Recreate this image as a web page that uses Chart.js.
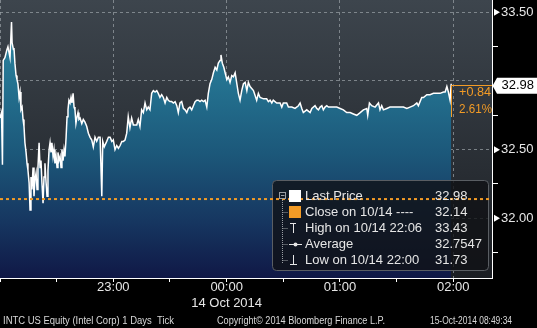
<!DOCTYPE html>
<html>
<head>
<meta charset="utf-8">
<script src="https://cdn.jsdelivr.net/npm/chart.js@4"></script>
<style>
  html, body { margin: 0; padding: 0; background: #000; }
  #wrap { width: 537px; height: 328px; }
</style>
</head>
<body>
<div id="wrap"><canvas id="chart" width="537" height="328"></canvas></div>
<script>
// ---- data (minutes after 22:00, INTC ticks) ----
const tickMinutes = [
  0, 0.8, 1.3, 1.7, 2.6, 3.7, 4.2, 5.3, 6.1, 6.4,
  7.1, 7.4, 7.9, 8.5, 9.0, 9.5, 10.1, 10.6, 11.1, 11.7,
  12.2, 12.7, 13.2, 13.8, 14.3, 14.8, 15.4, 15.9, 16.4, 16.9,
  17.5, 18.0, 18.5, 19.1, 19.6, 20.1, 20.7, 21.2, 21.7, 22.2,
  22.8, 23.3, 23.8, 24.4, 24.9, 25.4, 26.0, 26.5, 27.0, 27.5,
  28.1, 28.6, 29.1, 29.7, 30.2, 30.7, 31.2, 31.8, 32.3, 32.8,
  33.4, 33.9, 34.4, 35.0, 35.5, 36.0, 36.5, 37.1, 37.6, 38.1,
  38.7, 39.2, 39.7, 40.2, 40.8, 41.3, 41.8, 42.4, 43.3, 44.1,
  45.0, 45.9, 46.8, 47.7, 48.6, 49.4, 50.3, 51.2, 52.1, 53.0,
  53.9, 54.4, 55.2, 56.5, 57.4, 58.3, 59.2, 60.0, 60.9, 61.8,
  62.7, 63.6, 64.5, 65.3, 66.2, 67.1, 67.9, 68.8, 69.7, 70.6,
  71.5, 72.4, 73.2, 74.1, 75.0, 75.9, 76.8, 77.7, 78.5, 79.4,
  80.3, 81.2, 82.1, 83.0, 83.8, 84.7, 85.6, 86.5, 87.4, 88.3,
  89.1, 90.0, 90.9, 91.8, 92.7, 93.6, 94.4, 95.3, 96.2, 97.1,
  98.0, 98.9, 99.7, 100.6, 101.5, 102.4, 103.3, 104.2, 105.0, 105.9,
  106.8, 107.7, 108.6, 109.5, 110.3, 111.2, 112.1, 113.0, 113.9, 114.8,
  115.6, 116.5, 117.0, 117.7, 118.5, 119.2, 120.1, 120.9, 121.8, 122.7,
  123.6, 124.5, 125.4, 126.2, 127.1, 128.0, 128.9, 129.8, 130.7, 131.5,
  132.4, 134.2, 135.9, 136.8, 137.7, 139.5, 141.2, 142.1, 143.0, 143.9,
  144.7, 145.6, 146.5, 148.3, 149.2, 150.0, 151.8, 152.7, 154.5, 156.2,
  158.0, 158.9, 159.8, 160.6, 162.4, 164.2, 165.1, 166.8, 167.7, 168.6,
  169.5, 170.4, 171.2, 172.1, 173.0, 173.9, 178.3, 180.1, 181.8, 183.6,
  185.4, 187.1, 188.9, 190.7, 192.4, 194.2, 194.7, 195.6, 196.8, 198.6,
  200.4, 201.2, 202.1, 203.0, 204.8, 206.5, 210.1, 213.6, 215.4, 217.1,
  218.9, 220.7, 221.5, 222.4, 223.3, 224.2, 226.0, 227.7, 229.5, 231.3,
  233.0, 234.8, 235.7, 236.6, 237.4, 238.3, 238.9
];
const tickPrices = [
  32.73, 32.77, 32.39, 33.15, 33.17, 33.23, 33.25, 33.17, 33.43, 33.28,
  33.23, 33.24, 33.13, 33.04, 33.01, 32.98, 32.88, 32.92, 32.79, 32.81,
  32.72, 32.67, 32.55, 32.48, 32.40, 32.35, 32.26, 32.06, 32.30, 32.21,
  32.37, 32.16, 32.28, 32.33, 32.21, 32.37, 32.55, 32.37, 32.42, 32.26,
  32.11, 32.30, 32.40, 32.26, 32.16, 32.35, 32.50, 32.55, 32.48, 32.55,
  32.45, 32.50, 32.40, 32.45, 32.37, 32.48, 32.42, 32.45, 32.37, 32.50,
  32.42, 32.50, 32.45, 32.59, 32.74, 32.79, 32.86, 32.84, 32.88, 32.84,
  32.91, 32.81, 32.79, 32.69, 32.74, 32.77, 32.72, 32.73, 32.69, 32.72,
  32.70, 32.67, 32.62, 32.59, 32.57, 32.52, 32.59, 32.56, 32.59, 32.59,
  32.16, 32.56, 32.52, 32.56, 32.59, 32.59, 32.56, 32.57, 32.50, 32.53,
  32.51, 32.53, 32.56, 32.56, 32.57, 32.62, 32.74, 32.66, 32.73, 32.68,
  32.68, 32.68, 32.72, 32.67, 32.79, 32.77, 32.84, 32.79, 32.81, 32.79,
  32.91, 32.93, 32.92, 32.93, 32.91, 32.88, 32.90, 32.88, 32.84, 32.88,
  32.86, 32.85, 32.85, 32.84, 32.85, 32.82, 32.77, 32.84, 32.85, 32.80,
  32.79, 32.77, 32.80, 32.81, 32.79, 32.82, 32.85, 32.86, 32.86, 32.85,
  32.86, 32.85, 32.86, 32.81, 32.91, 32.98, 33.01, 33.06, 33.10, 33.08,
  33.13, 33.15, 33.19, 33.13, 33.10, 33.06, 33.01, 33.03, 32.99, 33.04,
  33.03, 33.06, 32.98, 32.91, 32.86, 32.93, 32.98, 32.99, 32.93, 32.99,
  32.96, 32.93, 32.86, 32.91, 32.88, 32.87, 32.87, 32.85, 32.86, 32.84,
  32.86, 32.85, 32.84, 32.84, 32.81, 32.84, 32.84, 32.81, 32.81, 32.80,
  32.82, 32.84, 32.80, 32.77, 32.79, 32.77, 32.80, 32.82, 32.80, 32.79,
  32.81, 32.82, 32.79, 32.81, 32.82, 32.81, 32.81, 32.80, 32.79, 32.77,
  32.77, 32.76, 32.75, 32.77, 32.79, 32.80, 32.75, 32.84, 32.82, 32.81,
  32.84, 32.79, 32.82, 32.79, 32.80, 32.81, 32.81, 32.81, 32.80, 32.81,
  32.82, 32.84, 32.82, 32.85, 32.88, 32.88, 32.90, 32.90, 32.91, 32.91,
  32.91, 32.92, 32.92, 32.96, 32.92, 32.86, 32.98
];

const closePrice = 32.14;
const lastPrice = 32.98;
const changeLines = ['+0.84', '2.61%'];

// x axis: 22:00 .. ~02:20, ticks every 30 min
const xMin = 0, xMax = 260.5;
const xTickMinutes = [0, 30, 60, 90, 120, 150, 180, 210, 240];
const xTickLabels = ['', '', '23:00', '', ['00:00', '14 Oct 2014'], '', '01:00', '', '02:00'];

const yMin = 31.565, yMax = 33.59;
const yTickValues = [31.75, 32.00, 32.25, 32.50, 32.75, 33.00, 33.25, 33.50];
const yTickLabels = ['', '32.00', '', '32.50', '', '', '', '33.50'];

const legendNames = ['Last Price', 'Close on 10/14 ----', 'High on 10/14 22:06', 'Average', 'Low on 10/14 22:00'];
const legendValues = ['32.98', '32.14', '33.43', '32.7547', '31.73'];

const footerTexts = ['INTC US Equity (Intel Corp) 1 Days  Tick', 'Copyright\u00A9 2014 Bloomberg Finance L.P.', '15-Oct-2014 08:49:34'];

// ---- styles ----
const FONT = '"Liberation Sans", Arial, sans-serif';
const ORANGE = '#f29b26';
const GRID = 'rgba(150,156,162,0.75)';
const TXT = '#e6e6e6';

const isHalf = v => Math.abs(v * 2 - Math.round(v * 2)) < 1e-6;

// background + legend + right-side boxes
const bbgPlugin = {
  id: 'bbg',
  beforeDraw(chart) {
    const { ctx, chartArea: a } = chart;
    ctx.save();
    ctx.fillStyle = '#000';
    ctx.fillRect(0, 0, chart.width, chart.height);
    const g = ctx.createLinearGradient(0, a.top, 0, a.bottom);
    g.addColorStop(0, '#3d454d');
    g.addColorStop(1, '#1b1e23');
    ctx.fillStyle = g;
    ctx.fillRect(a.left, a.top, a.right - a.left, a.bottom - a.top);
    ctx.restore();
  },
  beforeDatasetDraw(chart, args) {
    if (args.index !== 1) return;
    // legend box sits under the close line
    const { ctx } = chart;
    ctx.save();
    ctx.beginPath();
    ctx.roundRect(272.5, 180.5, 216, 90, 4);
    ctx.fillStyle = 'rgba(16,17,21,0.8)';
    ctx.fill();
    ctx.strokeStyle = '#5a5e63';
    ctx.lineWidth = 1;
    ctx.stroke();
    ctx.restore();
  },
  afterDraw(chart) {
    const { ctx } = chart;
    const ys = chart.scales.y;
    ctx.save();

    // legend contents
    const rowY = [196, 212, 228, 244, 260];
    ctx.font = '13px ' + FONT;
    ctx.textBaseline = 'middle';
    ctx.fillStyle = TXT;
    legendNames.forEach((n, i) => {
      ctx.fillText(n, 305, rowY[i]);
      ctx.fillText(legendValues[i], 435, rowY[i]);
    });
    // tree lines
    ctx.strokeStyle = '#9a9ea3';
    ctx.lineWidth = 1;
    ctx.setLineDash([1, 1]);
    ctx.beginPath();
    ctx.moveTo(282.5, 200); ctx.lineTo(282.5, 264);
    for (let i = 1; i < rowY.length; i++) {
      ctx.moveTo(282.5, rowY[i] + 0.5); ctx.lineTo(288, rowY[i] + 0.5);
    }
    ctx.stroke();
    ctx.setLineDash([]);
    ctx.strokeRect(279.5, 192.5, 6, 6);
    ctx.beginPath(); ctx.moveTo(281, 195.5); ctx.lineTo(284.5, 195.5); ctx.stroke();
    // swatches
    ctx.fillStyle = '#ffffff';
    ctx.fillRect(289, 190, 12, 12);
    ctx.fillStyle = ORANGE;
    ctx.fillRect(289, 206, 12, 12);
    // high / average / low icons
    ctx.strokeStyle = '#e6e6e6';
    ctx.beginPath();
    ctx.moveTo(290, 223.5); ctx.lineTo(296, 223.5);
    ctx.moveTo(293.5, 223.5); ctx.lineTo(293.5, 233);
    ctx.moveTo(289, 244.5); ctx.lineTo(302, 244.5);
    ctx.moveTo(293.5, 255); ctx.lineTo(293.5, 264.5);
    ctx.moveTo(290, 264.5); ctx.lineTo(297, 264.5);
    ctx.stroke();
    ctx.beginPath(); ctx.arc(295.5, 244.5, 2, 0, Math.PI * 2); ctx.fillStyle = '#e6e6e6'; ctx.fill();

    // change box next to last point
    ctx.strokeStyle = ORANGE;
    ctx.beginPath();
    ctx.moveTo(451.5, 117); ctx.lineTo(451.5, 85.5); ctx.lineTo(492, 85.5);
    ctx.stroke();
    ctx.fillStyle = ORANGE;
    ctx.fillText(changeLines[0], 459, 92, 32);
    ctx.fillText(changeLines[1], 459, 109, 33);

    // right axis markers
    ctx.fillStyle = '#ffffff';
    yTickValues.forEach((v, i) => {
      if (!yTickLabels[i]) return;
      const y = ys.getPixelForValue(v);
      ctx.beginPath();
      ctx.moveTo(494, y - 3.5); ctx.lineTo(500, y); ctx.lineTo(494, y + 3.5);
      ctx.closePath(); ctx.fill();
    });
    // last price tag
    const ly = ys.getPixelForValue(lastPrice) + 2;
    ctx.beginPath();
    ctx.moveTo(492.5, ly); ctx.lineTo(497, ly - 8); ctx.lineTo(537, ly - 8);
    ctx.lineTo(537, ly + 8); ctx.lineTo(497, ly + 8); ctx.closePath();
    ctx.fill();
    ctx.fillStyle = '#000';
    ctx.fillText(lastPrice.toFixed(2), 501.5, ly);

    // footer
    ctx.font = '10px ' + FONT;
    ctx.fillStyle = '#d8d8d8';
    ctx.fillText(footerTexts[0], 3, 321, 171);
    ctx.fillText(footerTexts[1], 217, 321, 168);
    ctx.fillText(footerTexts[2], 430, 321, 82);
    ctx.restore();
  }
};

const ctx = document.getElementById('chart').getContext('2d');
new Chart(ctx, {
  type: 'line',
  data: {
    datasets: [{
      label: 'Last Price',
      data: tickMinutes.map((t, i) => ({ x: t, y: tickPrices[i] })),
      borderColor: '#ffffff',
      borderWidth: 1.5,
      pointRadius: 0,
      tension: 0,
      fill: 'start',
      order: 2,
      backgroundColor: (c) => {
        const a = c.chart.chartArea;
        if (!a) return 'rgba(0,0,0,0)';
        const g = c.chart.ctx.createLinearGradient(0, a.top, 0, a.bottom);
        g.addColorStop(0, 'rgb(48,140,166)');
        g.addColorStop(0.3, 'rgb(36,114,144)');
        g.addColorStop(0.55, 'rgb(28,88,122)');
        g.addColorStop(0.8, 'rgb(22,54,96)');
        g.addColorStop(1, 'rgb(16,24,70)');
        return g;
      }
    }, {
      label: 'Close',
      data: [{ x: xMin, y: closePrice }, { x: xMax, y: closePrice }],
      borderColor: ORANGE,
      borderWidth: 2,
      borderDash: [3, 3],
      pointRadius: 0,
      fill: false,
      order: 1
    }]
  },
  options: {
    responsive: false,
    animation: false,
    events: [],
    layout: { padding: 0 },
    plugins: { legend: { display: false }, tooltip: { enabled: false } },
    scales: {
      x: {
        type: 'linear',
        min: xMin,
        max: xMax,
        afterBuildTicks: s => { s.ticks = xTickMinutes.map(v => ({ value: v })); },
        afterFit: s => { s.height = 50; s.paddingLeft = 0; s.paddingRight = 0; },
        ticks: {
          autoSkip: false,
          maxRotation: 0,
          padding: -2,
          color: TXT,
          font: { family: FONT, size: 13 },
          callback: (v, i) => xTickLabels[i]
        },
        grid: {
          color: c => (c.tick && c.tick.value % 60 === 0) ? GRID : 'rgba(0,0,0,0)',
          tickColor: '#ffffff',
          tickLength: 4,
          tickBorderDash: []
        },
        border: { color: '#ffffff', width: 1, dash: [3, 3] }
      },
      y: {
        position: 'right',
        min: yMin,
        max: yMax,
        afterBuildTicks: s => { s.ticks = yTickValues.map(v => ({ value: v })); },
        afterFit: s => { s.width = 45; s.paddingTop = 0; s.paddingBottom = 0; },
        ticks: {
          autoSkip: false,
          padding: 3,
          color: TXT,
          font: { family: FONT, size: 13 },
          callback: (v, i) => yTickLabels[i]
        },
        grid: {
          color: c => (c.tick && isHalf(c.tick.value)) ? GRID : 'rgba(0,0,0,0)',
          tickColor: c => (c.tick && isHalf(c.tick.value)) ? 'rgba(0,0,0,0)' : '#ffffff',
          tickLength: 6,
          tickBorderDash: []
        },
        border: { color: '#ffffff', width: 1, dash: [3, 3] }
      }
    }
  },
  plugins: [bbgPlugin]
});
</script>
</body>
</html>
